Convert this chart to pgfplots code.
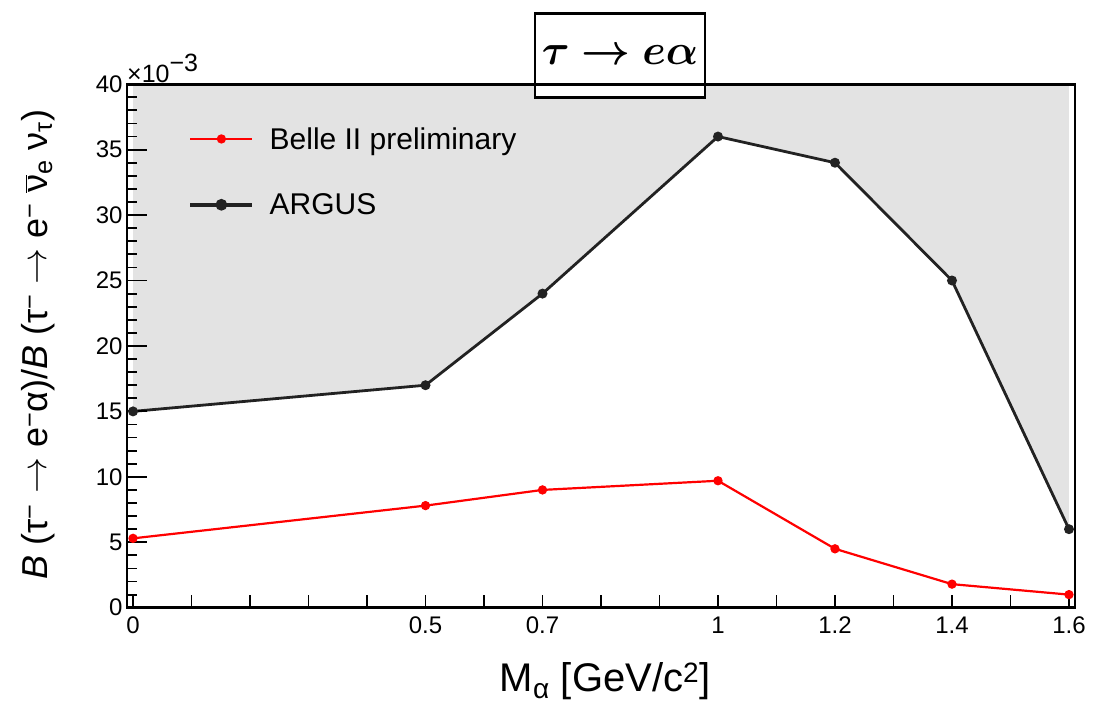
\documentclass[border=0pt]{standalone}
\usepackage{pgfplots}
\pgfplotsset{compat=1.18}
\usepackage{fontspec}
\setmainfont{Liberation Sans}
\usepackage{bm}
\definecolor{fillgray}{HTML}{E3E3E3}
\definecolor{argus}{HTML}{222222}
\newcommand{\bigarrow}{\raisebox{1pt}{\scalebox{1.45}{\fontsize{24}{24}\selectfont$\rightarrow$}}}
\begin{document}
\begin{tikzpicture}
\begin{axis}[
  width=948pt, height=523.5pt, scale only axis,
  xmin=-0.0103, xmax=1.6103, ymin=0, ymax=40,
  clip=false, axis on top=true,
  axis line style={line width=2.8pt},
  xtick={0,0.5,0.7,1,1.2,1.4,1.6},
  minor xtick={0.1,0.2,0.3,0.4,0.6,0.8,0.9,1.1,1.3,1.5},
  ytick={0,5,...,40},
  minor ytick={1,2,3,4,6,7,8,9,11,12,13,14,16,17,18,19,21,22,23,24,26,27,28,29,31,32,33,34,36,37,38,39},
  tick align=inside, xtick pos=bottom, ytick pos=left,
  xtick style={line width=1.8pt, black, /pgfplots/major tick length=13pt, /pgfplots/minor tick length=13pt},
  ytick style={line width=1.8pt, black, /pgfplots/major tick length=20pt, /pgfplots/minor tick length=10pt},
  /pgf/number format/assume math mode=true,
  ticklabel style={font=\fontsize{24}{24}\selectfont},
  xticklabel style={yshift=-6pt},
  yticklabel style={xshift=-1pt},
  legend style={draw=none, fill=none, at={(0.0643,0.918)}, anchor=north west,
    font=\fontsize{30}{30}\selectfont, inner sep=0pt, column sep=15pt, row sep=43pt,
    nodes={inner sep=0pt}},
  legend cell align=left,
  legend image code/.code={\draw[mark repeat=2,mark phase=2,#1] plot coordinates {(0pt,0pt) (31pt,0pt) (62pt,0pt)};},
]
\addplot[fill=fillgray, draw=none, forget plot] coordinates {(0,40) (0,15) (0.5,17) (0.7,24) (1.0,36) (1.2,34) (1.4,25) (1.6,6) (1.6,40)} -- cycle;
\addplot[color=red, line width=2.2pt, mark=*, mark size=3.5pt] coordinates {(0,5.3) (0.5,7.8) (0.7,9.0) (1.0,9.7) (1.2,4.5) (1.4,1.8) (1.6,1.0)};
\addlegendentry{Belle II preliminary}
\addplot[color=argus, line width=2.8pt, mark=*, mark size=3.5pt, forget plot] coordinates {(0,15) (0.5,17) (0.7,24) (1.0,36) (1.2,34) (1.4,25) (1.6,6)};
\addlegendimage{color=argus, line width=4.5pt, mark=*, mark size=3.5pt}
\addlegendentry{ARGUS}
\node[anchor=base west, font=\fontsize{25}{25}\selectfont, inner sep=0pt] at (axis cs:-0.0103,40.15) {×10\raisebox{11pt}{−3}};
\node[draw, line width=2.8pt, fill=white, minimum width=170pt, minimum height=84pt, inner sep=0pt] at (axis cs:0.8325,42.2) {\scalebox{2.05}{\fontsize{22}{22}\selectfont $\bm{\tau\rightarrow e\alpha}$}};
\node[anchor=base, font=\fontsize{40}{40}\selectfont, inner sep=0pt] at (axis cs:0.807,-6.44) {M\textsubscript{α} [GeV/c\textsuperscript{2}]};
\node[rotate=90, anchor=base, font=\fontsize{36}{36}\selectfont, inner sep=0pt] at (axis cs:-0.147,20.1) {{\itshape B} (τ\textsuperscript{−} \bigarrow{} e\textsuperscript{−}α)/{\itshape B} (τ\textsuperscript{−} \bigarrow{} e\textsuperscript{−} $\overline{\mbox{ν}}$\textsubscript{e} ν\textsubscript{τ})};
\end{axis}
\pgfresetboundingbox
\path[use as bounding box] (-127pt,-97.3pt) rectangle (967pt,607.7pt);
\end{tikzpicture}
\end{document}
